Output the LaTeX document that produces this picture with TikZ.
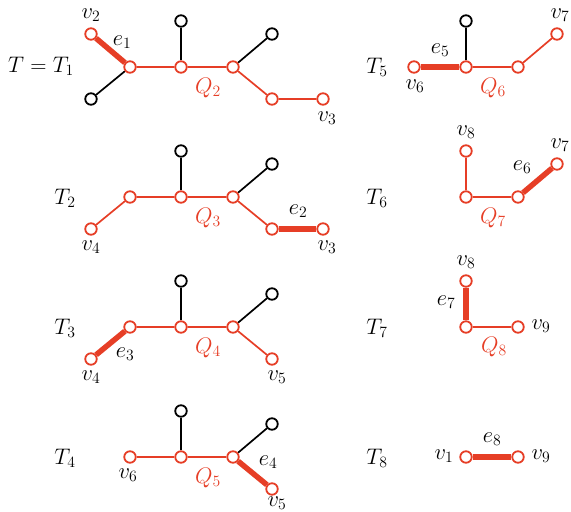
\RequirePackage{fix-cm}
\documentclass[tikz,border=0pt]{standalone}
\usetikzlibrary{backgrounds}
\definecolor{qred}{RGB}{230,62,38}
\begin{document}
\begin{tikzpicture}[x=1pt,y=-1pt,
 rv/.style={circle,draw=qred,fill=white,line width=1.8pt,minimum size=11.5pt,inner sep=0pt},
 bv/.style={rv,draw=black},
 re/.style={draw=qred,line width=1.7pt},
 be/.style={draw=black,line width=1.7pt},
 te/.style={draw=qred,line width=5.5pt},
 lab/.style={font=\fontsize{22.5}{27}\selectfont,inner sep=0pt},
 ql/.style={lab,text=qred}]
\useasboundingbox (0,0) rectangle (571,512);
% ---------- T1 ----------
\node[rv] (t1v2) at (91,34) {};
\node[bv] (t1l) at (91,99) {};
\node[rv] (t1a) at (130,67) {};
\node[rv] (t1b) at (181,67) {};
\node[bv] (t1bt) at (181,21) {};
\node[rv] (t1c) at (233,67) {};
\node[bv] (t1ct) at (272,34) {};
\node[rv] (t1d) at (272,99) {};
\node[rv] (t1v3) at (323,99) {};
\begin{scope}[on background layer]
\draw[te] (t1v2) -- (t1a);
\draw[be] (t1l) -- (t1a);
\draw[re] (t1a) -- (t1b) -- (t1c) -- (t1d) -- (t1v3);
\draw[be] (t1b) -- (t1bt);
\draw[be] (t1c) -- (t1ct);
\end{scope}
\node[lab] (t1name) at (41,66) {$T=T_1$};
\node[lab] (t1lv2) at (91,15) {$v_2$};
\node[lab] (t1le) at (122,42) {$e_1$};
\node[ql] (t1lq) at (208,88) {$Q_2$};
\node[lab] (t1lv3) at (327,118) {$v_3$};
% ---------- T2 ----------
\node[rv] (t2v4) at (91,229) {};
\node[rv] (t2a) at (130,197) {};
\node[rv] (t2b) at (181,197) {};
\node[bv] (t2bt) at (181,151) {};
\node[rv] (t2c) at (233,197) {};
\node[bv] (t2ct) at (272,164) {};
\node[rv] (t2d) at (272,229) {};
\node[rv] (t2v3) at (323,229) {};
\begin{scope}[on background layer]
\draw[re] (t2v4) -- (t2a) -- (t2b) -- (t2c) -- (t2d);
\draw[te] (t2d) -- (t2v3);
\draw[be] (t2b) -- (t2bt);
\draw[be] (t2c) -- (t2ct);
\end{scope}
\node[lab] (t2name) at (65,198) {$T_2$};
\node[lab] (t2lv4) at (91,247) {$v_4$};
\node[ql] (t2lq) at (208,218) {$Q_3$};
\node[lab] (t2le) at (298,211) {$e_2$};
\node[lab] (t2lv3) at (327,247) {$v_3$};
% ---------- T3 ----------
\node[rv] (t3v4) at (91,359) {};
\node[rv] (t3a) at (130,327) {};
\node[rv] (t3b) at (181,327) {};
\node[bv] (t3bt) at (181,281) {};
\node[rv] (t3c) at (233,327) {};
\node[bv] (t3ct) at (272,294) {};
\node[rv] (t3v5) at (272,359) {};
\begin{scope}[on background layer]
\draw[te] (t3v4) -- (t3a);
\draw[re] (t3a) -- (t3b) -- (t3c) -- (t3v5);
\draw[be] (t3b) -- (t3bt);
\draw[be] (t3c) -- (t3ct);
\end{scope}
\node[lab] (t3name) at (65,328) {$T_3$};
\node[lab] (t3le) at (125,354) {$e_3$};
\node[lab] (t3lv4) at (91,377) {$v_4$};
\node[ql] (t3lq) at (208,348) {$Q_4$};
\node[lab] (t3lv5) at (277,377) {$v_5$};
% ---------- T4 ----------
\node[rv] (t4v6) at (130,457) {};
\node[rv] (t4b) at (181,457) {};
\node[bv] (t4bt) at (181,411) {};
\node[rv] (t4c) at (233,457) {};
\node[bv] (t4ct) at (272,424) {};
\node[rv] (t4v5) at (272,489) {};
\begin{scope}[on background layer]
\draw[re] (t4v6) -- (t4b) -- (t4c);
\draw[te] (t4c) -- (t4v5);
\draw[be] (t4b) -- (t4bt);
\draw[be] (t4c) -- (t4ct);
\end{scope}
\node[lab] (t4name) at (65,458) {$T_4$};
\node[lab] (t4lv6) at (128,475) {$v_6$};
\node[ql] (t4lq) at (208,478) {$Q_5$};
\node[lab] (t4le) at (268,462) {$e_4$};
\node[lab] (t4lv5) at (277,503) {$v_5$};
% ---------- T5 ----------
\node[rv] (t5v6) at (414,67) {};
\node[rv] (t5b) at (466,67) {};
\node[bv] (t5bt) at (466,21) {};
\node[rv] (t5c) at (518,67) {};
\node[rv] (t5v7) at (557,34) {};
\begin{scope}[on background layer]
\draw[te] (t5v6) -- (t5b);
\draw[re] (t5b) -- (t5c) -- (t5v7);
\draw[be] (t5b) -- (t5bt);
\end{scope}
\node[lab] (t5name) at (377,67) {$T_5$};
\node[lab] (t5le) at (440,50) {$e_5$};
\node[lab] (t5lv6) at (415,86) {$v_6$};
\node[ql] (t5lq) at (493,88) {$Q_6$};
\node[lab] (t5lv7) at (560,15) {$v_7$};
% ---------- T6 ----------
\node[rv] (t6v8) at (466,151) {};
\node[rv] (t6b) at (466,197) {};
\node[rv] (t6c) at (518,197) {};
\node[rv] (t6v7) at (557,164) {};
\begin{scope}[on background layer]
\draw[re] (t6v8) -- (t6b) -- (t6c);
\draw[te] (t6c) -- (t6v7);
\end{scope}
\node[lab] (t6name) at (377,198) {$T_6$};
\node[lab] (t6lv8) at (466,132) {$v_8$};
\node[lab] (t6le) at (522,167) {$e_6$};
\node[lab] (t6lv7) at (560,145) {$v_7$};
\node[ql] (t6lq) at (493,218) {$Q_7$};
% ---------- T7 ----------
\node[rv] (t7v8) at (466,281) {};
\node[rv] (t7b) at (466,327) {};
\node[rv] (t7v9) at (518,327) {};
\begin{scope}[on background layer]
\draw[te] (t7v8) -- (t7b);
\draw[re] (t7b) -- (t7v9);
\end{scope}
\node[lab] (t7name) at (377,328) {$T_7$};
\node[lab] (t7lv8) at (466,262) {$v_8$};
\node[lab] (t7le) at (446,302) {$e_7$};
\node[lab] (t7lv9) at (541,326) {$v_9$};
\node[ql] (t7lq) at (494,347) {$Q_8$};
% ---------- T8 ----------
\node[rv] (t8v1) at (466,457) {};
\node[rv] (t8v9) at (518,457) {};
\begin{scope}[on background layer]
\draw[te] (t8v1) -- (t8v9);
\end{scope}
\node[lab] (t8name) at (377,458) {$T_8$};
\node[lab] (t8lv1) at (444,456) {$v_1$};
\node[lab] (t8le) at (492,439) {$e_8$};
\node[lab] (t8lv9) at (541,456) {$v_9$};
\end{tikzpicture}
\end{document}
